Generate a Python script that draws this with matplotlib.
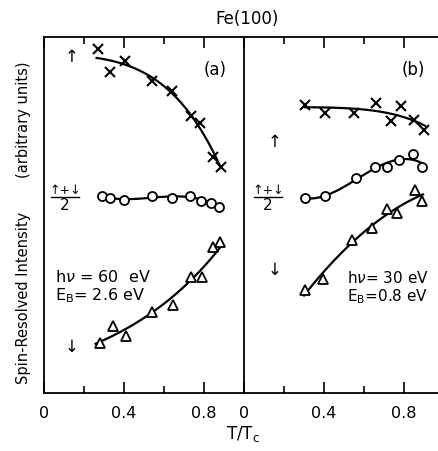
import numpy as np
import matplotlib
matplotlib.use('Agg')
import matplotlib.pyplot as plt
from matplotlib.lines import Line2D
from matplotlib.ticker import FixedLocator

# T/Tc and spin-resolved intensity (arbitrary units)
# panel (a): hv = 60 eV, E_B = 2.6 eV
a_up_t = [0.272, 0.33, 0.405, 0.539, 0.638, 0.735, 0.78, 0.847, 0.885]
a_up = [9.65, 9.01, 9.33, 8.77, 8.49, 7.78, 7.58, 6.62, 6.36]
a_avg_t = [0.288, 0.33, 0.40, 0.539, 0.638, 0.73, 0.785, 0.835, 0.877]
a_avg = [5.54, 5.47, 5.42, 5.53, 5.49, 5.53, 5.40, 5.35, 5.23]
a_dn_t = [0.28, 0.343, 0.408, 0.539, 0.643, 0.733, 0.788, 0.847, 0.88]
a_dn = [1.40, 1.89, 1.61, 2.27, 2.47, 3.25, 3.25, 4.11, 4.23]

# panel (b): hv = 30 eV, E_B = 0.8 eV
b_up_t = [0.305, 0.405, 0.55, 0.66, 0.733, 0.785, 0.852, 0.902]
b_up = [8.09, 7.87, 7.87, 8.14, 7.64, 8.06, 7.67, 7.39]
b_avg_t = [0.305, 0.405, 0.56, 0.655, 0.717, 0.775, 0.847, 0.892]
b_avg = [5.47, 5.53, 6.03, 6.34, 6.36, 6.54, 6.71, 6.36]
b_dn_t = [0.305, 0.397, 0.538, 0.638, 0.713, 0.767, 0.855, 0.888]
b_dn = [2.89, 3.19, 4.30, 4.64, 5.17, 5.05, 5.70, 5.39]

W, H = 438, 451
plt.rcParams['font.family'] = ['DejaVu Sans']

fig = plt.figure(figsize=(W / 100, H / 100), dpi=100)


def fx(px):
    return px / W


def fy(py):
    return 1 - py / H


ax_a = fig.add_axes([fx(44), fy(393), 200 / W, 356 / H])
ax_b = fig.add_axes([fx(244), fy(393), 194 / W, 356 / H])


# smooth guide-to-the-eye curves: least squares on a few basis functions
def fit_line(ax, t, y, basis, t0, t1, log=False):
    t = np.asarray(t)
    y = np.log(y) if log else np.asarray(y)
    A = np.column_stack([f(t) for f in basis])
    c = np.linalg.lstsq(A, y, rcond=None)[0]
    tt = np.linspace(t0, t1, 100)
    yy = np.column_stack([f(tt) for f in basis]) @ c
    if log:
        yy = np.exp(yy)
    ax.plot(tt, yy, color='black', lw=1.6, zorder=2)


one = np.ones_like
poly2 = [one, lambda t: t, lambda t: t ** 2]
poly3 = poly2 + [lambda t: t ** 3]


def style(ax, xmax):
    ax.set_xlim(0, xmax)
    ax.set_ylim(0, 10)
    ax.set_yticks([])
    ax.xaxis.set_major_locator(FixedLocator([0, 0.4, 0.8]))
    ax.xaxis.set_minor_locator(FixedLocator([0.2, 0.6]))
    ax.set_xticklabels(['0', '0.4', '0.8'])
    ax.tick_params(axis='x', which='both', direction='in', top=True,
                   width=1.2, labelsize=11.5, pad=9)
    ax.tick_params(axis='x', which='major', length=8)
    ax.tick_params(axis='x', which='minor', length=5)
    for s in ax.spines.values():
        s.set_linewidth(1.3)
    ax.spines['right'].set_visible(False)


def points(ax, t, y, marker, ms):
    if marker == 'x':
        ax.plot(t, y, 'x', color='black', ms=ms, mew=1.5, zorder=3)
    else:
        ax.plot(t, y, marker, mfc='white', mec='black', ms=ms, mew=1.3,
                zorder=3, linestyle='none')


style(ax_a, 1.0)
style(ax_b, 0.97)

fit_line(ax_a, a_up_t, a_up, [one, lambda t: t ** 2, lambda t: t ** 4], 0.263, 0.885)
fit_line(ax_a, a_avg_t, a_avg, poly3, 0.29, 0.877)
fit_line(ax_a, a_dn_t, a_dn, [one, lambda t: t], 0.258, 0.89, log=True)
points(ax_a, a_up_t, a_up, 'x', 6.5)
points(ax_a, a_avg_t, a_avg, 'o', 6.5)
points(ax_a, a_dn_t, a_dn, '^', 6.5)

fit_line(ax_b, b_up_t, b_up, [one, lambda t: t ** 5], 0.305, 0.905)
fit_line(ax_b, b_avg_t, b_avg, poly3, 0.305, 0.895)
fit_line(ax_b, b_dn_t, b_dn, poly2, 0.3, 0.895)
points(ax_b, b_up_t, b_up, 'x', 6.5)
points(ax_b, b_avg_t, b_avg, 'o', 6.5)
points(ax_b, b_dn_t, b_dn, '^', 6.5)

# labels
fig.text(fx(247), fy(19), 'Fe(100)', ha='center', va='center', fontsize=12)
fig.text(fx(243), fy(434), r'T/T$_\mathrm{c}$', ha='center', va='center', fontsize=12)
fig.text(fx(24), fy(298), 'Spin-Resolved Intensity', rotation=90,
         ha='center', va='center', fontsize=10.5)
fig.text(fx(24), fy(120), '(arbitrary units)', rotation=90,
         ha='center', va='center', fontsize=10.5)

fig.text(fx(215), fy(70), '(a)', ha='center', va='center', fontsize=12)
fig.text(fx(413), fy(70), '(b)', ha='center', va='center', fontsize=12)

for x0, ys in [(72, (57, 197, 347)), (275, (142, 197, 270))]:
    fig.text(fx(x0), fy(ys[0]), '\u2191', ha='center', va='center', fontsize=12)
    fig.text(fx(x0 - 7), fy(ys[1] - 7), '\u2191+\u2193', ha='center', va='center',
             fontsize=9)
    fig.add_artist(Line2D([fx(x0 - 21), fx(x0 + 7)], [fy(ys[1]), fy(ys[1])],
                          color='black', lw=1.0, transform=fig.transFigure))
    fig.text(fx(x0 - 7), fy(ys[1] + 8), '2', ha='center', va='center', fontsize=11)
    fig.text(fx(x0), fy(ys[2]), '\u2193', ha='center', va='center', fontsize=12)

fig.text(fx(55), fy(277), r'h$\nu$ = 60  eV', ha='left', va='center', fontsize=11.5)
fig.text(fx(55), fy(296), r'E$_\mathrm{B}$= 2.6 eV', ha='left', va='center', fontsize=11.5)
fig.text(fx(347), fy(278), r'h$\nu$= 30 eV', ha='left', va='center', fontsize=11)
fig.text(fx(347), fy(297), r'E$_\mathrm{B}$=0.8 eV', ha='left', va='center', fontsize=11)

fig.savefig('out.png', dpi=100)
